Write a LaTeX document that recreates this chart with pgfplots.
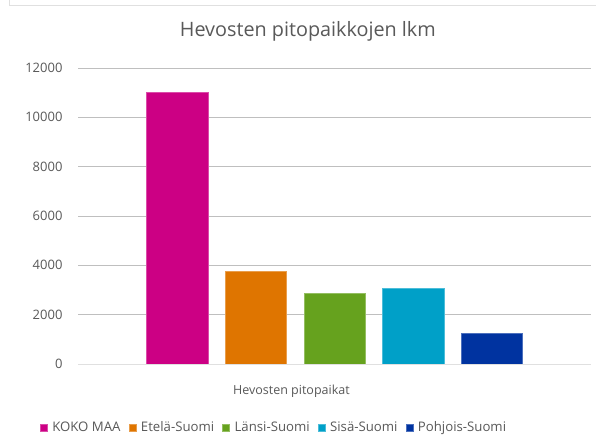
\documentclass[border=0pt]{standalone}
\usepackage{pgfplots}
\pgfplotsset{compat=1.18}
\usepackage{fontspec}
\setmainfont{Open Sans}
\definecolor{txt}{HTML}{595959}
\definecolor{grid}{HTML}{E0E0E0}
\definecolor{cA}{HTML}{CC0084}
\definecolor{cB}{HTML}{DF7500}
\definecolor{cC}{HTML}{66A21E}
\definecolor{cD}{HTML}{00A0C8}
\definecolor{cE}{HTML}{0033A0}
\begin{document}
\begin{tikzpicture}[x=1pt,y=1pt]
\useasboundingbox (0,0) rectangle (596,445);
\fill[white] (0,0) rectangle (596,445);
\draw[grid, line width=1pt] (9,445) -- (9,439) -- (596,439);
\begin{axis}[
  at={(78pt,81pt)}, anchor=south west,
  scale only axis, width=513pt, height=296pt,
  xmin=-1.26, xmax=5.26, ymin=0, ymax=12000,
  ytick={0,2000,...,12000},
  xtick=\empty,
  scaled y ticks=false,
  /pgf/number format/1000 sep={},
  /pgf/number format/assume math mode=true,
  yticklabel style={font=\fontsize{13}{15}\selectfont, text=txt, xshift=-12pt},
  ymajorgrids, grid style={grid, line width=1pt},
  major tick length=0pt,
  axis line style={draw=none},
  axis x line*=bottom,
  ybar, bar shift=0pt, bar width=61.5pt,
  title={Hevosten pitopaikkojen lkm},
  title style={font=\fontsize{19.8}{22}\selectfont, text=txt, at={(axis description cs:0.448,1.0868)}, anchor=base},
  xlabel={Hevosten pitopaikat},
  xlabel style={font=\fontsize{12.5}{14}\selectfont, text=txt, at={(axis description cs:0.416,-0.1047)}, anchor=base},
  legend columns=5,
  legend style={draw=none, fill=none, font=\fontsize{13.2}{15}\selectfont, text=txt,
    at={(axis description cs:0.382,-0.2145)}, anchor=center,
    /tikz/every even column/.append style={column sep=6pt},
    /tikz/every odd column/.append style={column sep=3pt}},
  legend image code/.code={\fill[#1] (0pt,-3.5pt) rectangle (7pt,3.5pt);},
]
\addplot[fill=cA, draw=cA!70!white] coordinates {(0,11020)};
\addplot[fill=cB, draw=cB!70!white] coordinates {(1,3760)};
\addplot[fill=cC, draw=cC!70!white] coordinates {(2,2870)};
\addplot[fill=cD, draw=cD!70!white] coordinates {(3,3070)};
\addplot[fill=cE, draw=cE!70!white] coordinates {(4,1230)};
\draw[grid, line width=1pt] (axis cs:-1.26,0) -- (axis cs:5.26,0);
\legend{KOKO MAA, Etelä-Suomi, Länsi-Suomi, Sisä-Suomi, Pohjois-Suomi}
\end{axis}
\end{tikzpicture}
\end{document}
